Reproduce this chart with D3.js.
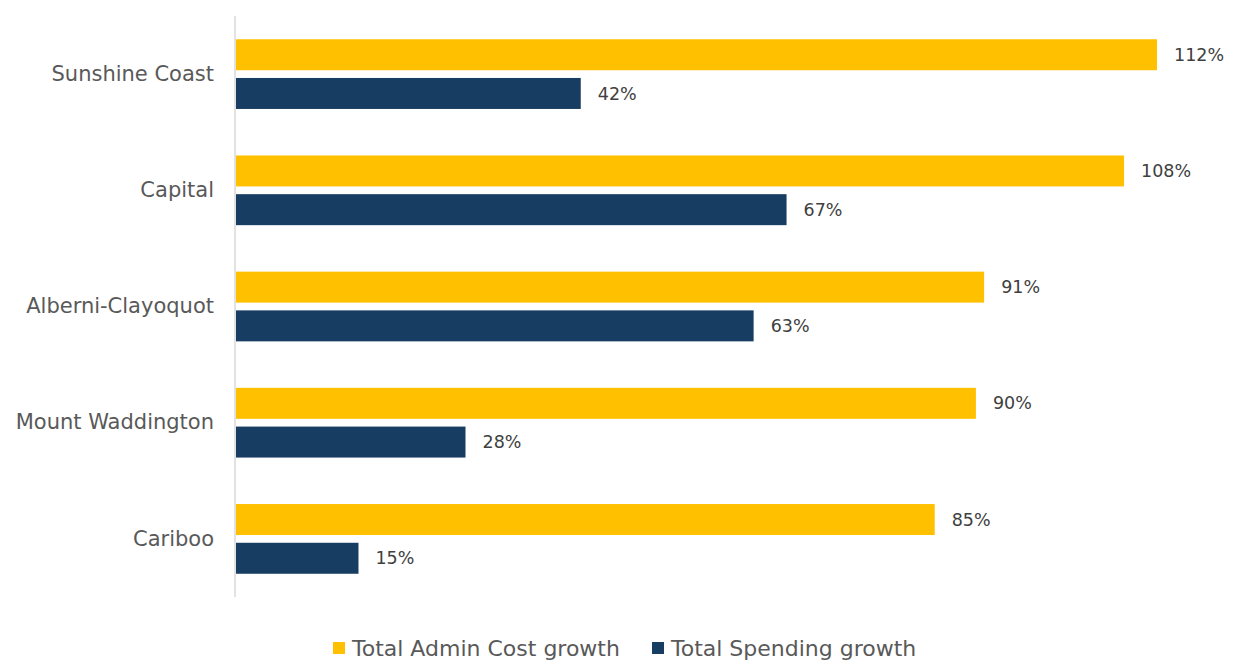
<!DOCTYPE html>
<html>
<head>
<meta charset="utf-8">
<script src="https://cdn.jsdelivr.net/npm/d3@7/dist/d3.min.js"></script>
<style>
  html, body { margin: 0; padding: 0; background: #fff; }
  svg { display: block; font-family: "DejaVu Sans", Verdana, sans-serif; }
</style>
</head>
<body>
<svg id="chart" width="1234" height="660"></svg>
<script>
// Regional districts and their growth figures (%)
const regions = ["Sunshine Coast", "Capital", "Alberni-Clayoquot", "Mount Waddington", "Cariboo"];
const adminCostGrowth = [112, 108, 91, 90, 85];
const spendingGrowth = [42, 67, 63, 28, 15];
const seriesNames = ["Total Admin Cost growth", "Total Spending growth"];
const seriesColors = ["#FFC000", "#183D63"];

const svg = d3.select("#chart");
const margin = { top: 16, right: 40, bottom: 63, left: 235 };
const width = 1234, height = 660;

const rows = regions.map((r, i) => ({ region: r, values: [adminCostGrowth[i], spendingGrowth[i]] }));

const y = d3.scaleBand()
  .domain(regions)
  .range([margin.top, height - margin.bottom])
  .paddingInner(0.4)
  .paddingOuter(0.2);

const ySub = d3.scaleBand()
  .domain([0, 1])
  .range([0, y.bandwidth()])
  .paddingInner(0.2);

const x = d3.scaleLinear()
  .domain([0, 112])
  .range([margin.left, 1157]);

// Category labels
const yAxis = svg.append("g")
  .attr("transform", `translate(${margin.left},0)`)
  .call(d3.axisLeft(y).tickSize(0).tickPadding(21));
yAxis.select(".domain").remove();
yAxis.selectAll("text")
  .attr("fill", "#595959")
  .style("font-size", "21px")
  .style("font-family", "'DejaVu Sans', Verdana, sans-serif");

// Bars
const groups = svg.append("g").selectAll("g")
  .data(rows)
  .join("g")
  .attr("transform", d => `translate(0,${y(d.region)})`);

groups.selectAll("rect")
  .data(d => d.values.map((v, k) => ({ v, k })))
  .join("rect")
  .attr("x", x(0) + 1)
  .attr("y", d => ySub(d.k))
  .attr("width", d => x(d.v) - x(0) - 1)
  .attr("height", ySub.bandwidth())
  .attr("fill", d => seriesColors[d.k]);

groups.selectAll("text")
  .data(d => d.values.map((v, k) => ({ v, k })))
  .join("text")
  .attr("x", d => x(d.v) + 17)
  .attr("y", d => ySub(d.k) + ySub.bandwidth() / 2)
  .attr("dy", "0.35em")
  .attr("fill", "#404040")
  .style("font-size", "17.5px")
  .text(d => d.v + "%");

// Vertical axis line
svg.append("line")
  .attr("x1", margin.left).attr("x2", margin.left)
  .attr("y1", margin.top).attr("y2", height - margin.bottom)
  .attr("stroke", "#D9D9D9")
  .attr("stroke-width", 1.5);

// Legend
const legend = svg.append("g").attr("transform", "translate(0,648)");
const legendX = [333, 652];
seriesNames.forEach((name, i) => {
  legend.append("rect")
    .attr("x", legendX[i]).attr("y", -6)
    .attr("width", 12).attr("height", 12)
    .attr("fill", seriesColors[i]);
  legend.append("text")
    .attr("x", legendX[i] + 19).attr("y", 0)
    .attr("dy", "0.35em")
    .attr("fill", "#595959")
    .style("font-size", "22px")
    .text(name);
});
</script>
</body>
</html>
